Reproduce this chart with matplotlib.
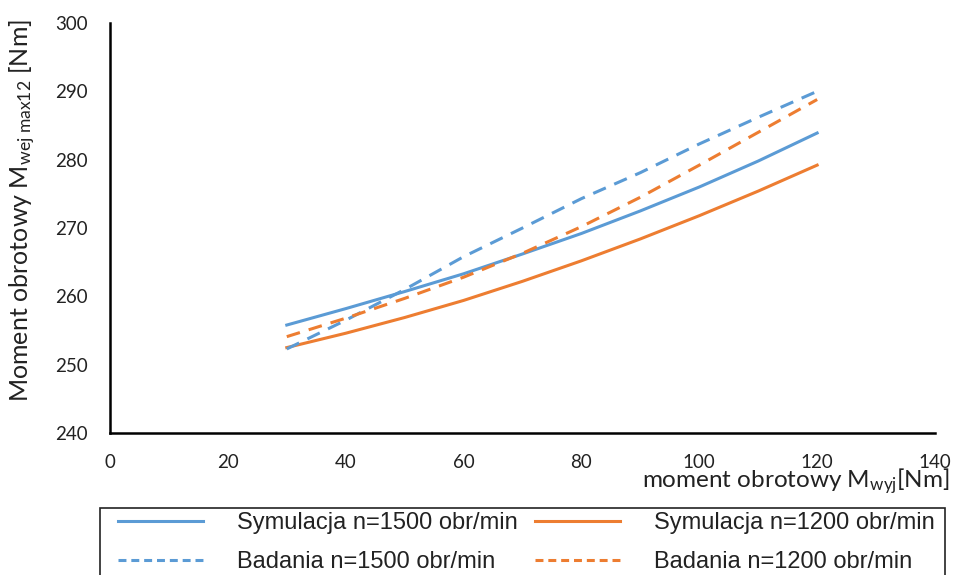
import matplotlib
matplotlib.use("Agg")
import matplotlib.pyplot as plt
from matplotlib.lines import Line2D
from matplotlib.patches import Rectangle

# Output torque M_wyj [Nm]
m_out = [30, 40, 50, 60, 70, 80, 90, 100, 110, 120]

# Input torque M_wej max12 [Nm]
sym_1500 = [255.8, 258.2, 260.7, 263.3, 266.2, 269.2, 272.5, 276.0, 279.8, 283.9]
sym_1200 = [252.5, 254.6, 256.9, 259.4, 262.2, 265.2, 268.4, 271.8, 275.4, 279.2]
bad_1500 = [252.3, 256.5, 261.0, 265.8, 270.0, 274.3, 278.1, 282.3, 286.2, 290.0]
bad_1200 = [254.1, 256.8, 259.7, 262.8, 266.3, 270.2, 274.5, 279.2, 284.0, 288.8]

series_labels = [
    "Symulacja n=1500 obr/min",
    "Badania n=1500 obr/min",
    "Symulacja n=1200 obr/min",
    "Badania n=1200 obr/min",
]

x_ticks = [0, 20, 40, 60, 80, 100, 120, 140]
y_ticks = [240, 250, 260, 270, 280, 290, 300]

BLUE = "#5B9BD5"
ORANGE = "#ED7D31"
TEXT = "#222222"

plt.rcParams["font.family"] = ["Lato", "DejaVu Sans"]
plt.rcParams["mathtext.fontset"] = "custom"
plt.rcParams["mathtext.rm"] = "Lato"
plt.rcParams["mathtext.it"] = "Lato:italic"

W, H = 957, 575
fig = plt.figure(figsize=(W / 100, H / 100), dpi=100)
ax = fig.add_axes([110 / W, 1 - 433 / H, (935 - 110) / W, (433 - 23) / H])

lw = 2.2
dash = (4.5, 3)
ax.plot(m_out, sym_1500, color=BLUE, lw=lw)
ax.plot(m_out, sym_1200, color=ORANGE, lw=lw)
ax.plot(m_out, bad_1500, color=BLUE, lw=lw, dashes=dash)
ax.plot(m_out, bad_1200, color=ORANGE, lw=lw, dashes=dash)

ax.set_xlim(0, 140)
ax.set_ylim(240, 300)
ax.set_xticks(x_ticks)
ax.set_yticks(y_ticks)
ax.tick_params(length=0, labelsize=13.5, colors=TEXT)
ax.tick_params(axis="y", pad=16)
ax.tick_params(axis="x", pad=15)
for s in ("top", "right"):
    ax.spines[s].set_visible(False)
for s in ("left", "bottom"):
    ax.spines[s].set_linewidth(1.8)
    ax.spines[s].set_color("black")

fig.text(23 / W, 1 - 210 / H, r"Moment obrotowy M$_{\mathrm{wej\ max12}}$ [Nm]",
         rotation=90, ha="center", va="center", fontsize=18, color=TEXT)
fig.text(950 / W, 1 - 487 / H, r"moment obrotowy M$_{\mathrm{wyj}}$[Nm]",
         ha="right", va="baseline", fontsize=17.5, color=TEXT)

# Legend keys: shorter dashes than the plotted lines
key_dash = (2.6, 1.6)
handles = [
    Line2D([], [], color=BLUE, lw=lw),
    Line2D([], [], color=BLUE, lw=lw, dashes=key_dash),
    Line2D([], [], color=ORANGE, lw=lw),
    Line2D([], [], color=ORANGE, lw=lw, dashes=key_dash),
]
leg = fig.legend(
    handles,
    series_labels,
    loc="upper left",
    bbox_to_anchor=(118 / W, 0, (935 - 118) / W, 1 - 512 / H),
    mode="expand",
    ncol=2,
    frameon=False,
    prop={"family": ["Liberation Sans", "DejaVu Sans"], "size": 17},
    handlelength=3.6,
    handletextpad=1.45,
    labelspacing=0.72,
    borderpad=0.0,
    borderaxespad=0.0,
    columnspacing=1.0,
)
for t in leg.get_texts():
    t.set_color(TEXT)

# Legend frame
fig.patches.append(Rectangle((100 / W, -0.05), (945 - 100) / W, 0.05 + 1 - 508 / H,
                             transform=fig.transFigure, fill=False,
                             edgecolor="#222222", lw=1.2, zorder=5))

fig.savefig("out.png", dpi=100)
